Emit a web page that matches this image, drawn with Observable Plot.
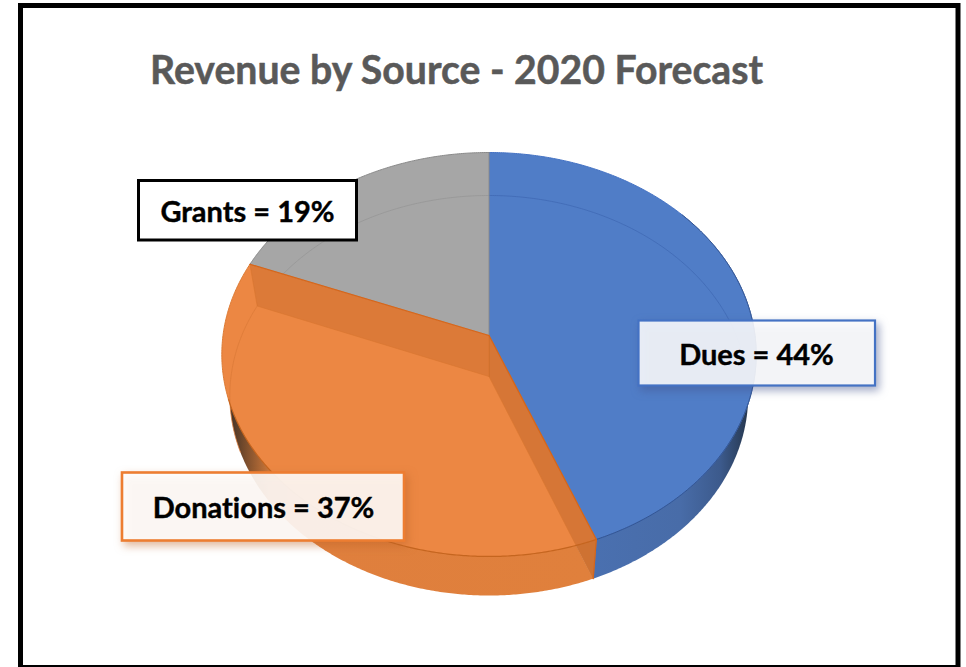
<!DOCTYPE html>
<html>
<head>
<meta charset="utf-8">
<script src="https://cdn.jsdelivr.net/npm/d3@7"></script>
<script src="https://cdn.jsdelivr.net/npm/@observablehq/plot@0.6"></script>
<style>
  html, body { margin: 0; padding: 0; background: #fff; }
  svg { display: block; }
</style>
</head>
<body>
<div id="chart"></div>
<script>
// ---- chart values ----
const titleText = "Revenue by Source - 2020 Forecast";
const categories = ["Dues", "Donations", "Grants"];
const shares = [44, 37, 19];

// ---- drawing layout (pixels of the 966x667 picture) ----
const W = 966, H = 667;
const topDisc = {cx: 488.5, cy: 335, A: 266, B: -200.2, C: 0.094};
const botDisc = {cx: 488.5, cy: 376, A: 258, B: -198.2, C: 0.095};
const total = d3.sum(shares);
const ends = d3.cumsum(shares);                 // cumulative, clockwise from 12 o'clock
const starts = ends.map((e, i) => e - shares[i]);

// perspective projection of a point of the flat unit disc
const proj = (d, r, share) => {
  const a = (share / total) * 2 * Math.PI;
  const u = r * Math.sin(a), v = r * Math.cos(a), w = 1 + d.C * v;
  return {x: d.cx + d.A * u / w, y: d.cy + d.B * v / w};
};
const arc = (d, from, to) => {
  const n = Math.max(2, Math.ceil(Math.abs(to - from) * 8));
  return d3.range(n + 1).map(i => proj(d, 1, from + (to - from) * i / n));
};
const apexT = proj(topDisc, 0, 0), apexB = proj(botDisc, 0, 0);
const wedge = (d, i) => [proj(d, 0, 0), ...arc(d, starts[i], ends[i])];
const poly = (pts, o) => Plot.line(pts, {x: "x", y: "y", curve: "linear-closed", stroke: "none", ...o});
const path = (pts, o) => Plot.line(pts, {x: "x", y: "y", curve: "linear", fill: "none", ...o});

const [iDues, iDon, iGr] = [0, 1, 2];
const cDT = proj(topDisc, 1, ends[iDues]), cDB = proj(botDisc, 1, ends[iDues]);
const cGT = proj(topDisc, 1, ends[iDon]),  cGB = proj(botDisc, 1, ends[iDon]);

// label boxes
const boxes = [
  {label: `${categories[2]} = ${shares[2]}%`, x1: 138.5, x2: 356.5, y1: 180.5, y2: 240, stroke: "#000", sw: 3, op: 1, tx: 247, ty: 212,
   filter: "none"},
  {label: `${categories[0]} = ${shares[0]}%`, x1: 638.5, x2: 875, y1: 320.5, y2: 385.5, stroke: "#4472c4", sw: 2.2, op: 0.87, tx: 756, ty: 355,
   filter: "drop-shadow(3px 4px 4px rgba(68,84,140,.55))"},
  {label: `${categories[1]} = ${shares[1]}%`, x1: 122, x2: 404, y1: 472.5, y2: 540.5, stroke: "#ed7d31", sw: 2.6, op: 0.88, tx: 263, ty: 508,
   filter: "drop-shadow(3px 4px 4px rgba(190,100,40,.5))"}
];

// gradients for the side wall
const defs = () => {
  const g = d3.create("svg:g");
  const d = g.append("defs");
  const grad = (id, stops) => {
    const lg = d.append("linearGradient").attr("id", id).attr("gradientUnits", "userSpaceOnUse")
      .attr("x1", 220).attr("x2", 760).attr("y1", 0).attr("y2", 0);
    stops.forEach(([o, c]) => lg.append("stop").attr("offset", (o - 220) / 540).attr("stop-color", c));
  };
  grad("wallO", [[228, "#3f3026"], [245, "#7a4d2c"], [268, "#c8753a"], [300, "#df7f3d"], [600, "#e0803c"]]);
  grad("wallB", [[590, "#4a70b0"], [680, "#486ca8"], [720, "#3c5a8c"], [748, "#26374f"]]);
  return g.node();
};

const chart = Plot.plot({
  width: W, height: H,
  margin: 0,
  x: {domain: [0, W], range: [0, W], axis: null},
  y: {domain: [0, H], range: [0, H], axis: null},
  style: {background: "#fff", fontFamily: "Lato, Carlito, sans-serif"},
  marks: [
    defs,
    // picture frame
    Plot.rect([{}], {x1: () => 20.5, x2: () => 958, y1: () => 5.5, y2: () => 667.5, stroke: "#000", strokeWidth: 5, fill: "#fff"}),
    Plot.text([titleText], {x: () => 456, y: () => 71, text: d => d, fontSize: 39.2, fontWeight: 700, fill: "#595959", stroke: "#595959", strokeWidth: 0.5, lineAnchor: "middle", fontVariant: "no-common-ligatures"}),

    // side wall: bottom disc, seen below the top face
    poly(wedge(botDisc, iDues), {fill: "url(#wallB)"}),
    poly(wedge(botDisc, iDon), {fill: "url(#wallO)"}),

    // top faces
    poly(wedge(topDisc, iDues), {fill: "#507dc7", stroke: "#4472c4", strokeWidth: 1}),
    poly(wedge(topDisc, iGr), {fill: "#a6a6a6"}),
    path(arc(topDisc, starts[iGr], ends[iGr]), {stroke: "#8a8a8a", strokeWidth: 1}),
    path([proj(topDisc, 1, 0), apexT], {stroke: "#8c8c8c", strokeWidth: 1}),
    path(arc(topDisc, starts[iDues] + 14, ends[iDues]), {stroke: "#35558f", strokeWidth: 1}),

    // far rim of the bottom disc, seen through the blue and grey faces
    path(arc(botDisc, 0, 24), {stroke: "#4069b4", strokeWidth: 1, strokeOpacity: 0.8}),
    path(arc(botDisc, starts[iGr], total), {stroke: "#969696", strokeWidth: 1, strokeOpacity: 0.8}),

    // orange face, with its inner walls seen through it
    poly([apexT, cDT, cDB, apexB], {fill: "#e0803c"}),
    poly(wedge(topDisc, iDon), {fill: "#ec8743"}),
    path(arc(botDisc, starts[iGr] - 12, ends[iDon]), {stroke: "#dc7a38", strokeWidth: 1, strokeOpacity: 0.8}),
    poly([apexT, cGT, cGB, apexB], {fill: "#b75e21", fillOpacity: 0.3, stroke: "#d9762f", strokeWidth: 0.6}),
    poly([apexT, cDT, cDB, apexB], {fill: "#b05a20", fillOpacity: 0.36, stroke: "#d9762f", strokeWidth: 0.6}),
    path(arc(topDisc, starts[iDon], starts[iDon] + 26), {stroke: "#c5651f", strokeWidth: 1.2}),
    path(arc(topDisc, starts[iDon] + 26, ends[iDon]), {stroke: "#dd7a32", strokeWidth: 1}),
    path([cGT, apexT, cDT, cDB], {stroke: "#d4661c", strokeWidth: 1.2}),

    // label boxes
    ...boxes.map(b => Plot.rect([b], {
      x1: "x1", x2: "x2", y1: "y1", y2: "y2",
      fill: "#fff", fillOpacity: b.op, stroke: b.stroke, strokeWidth: b.sw, imageFilter: b.filter
    })),
    Plot.text(boxes, {x: "tx", y: "ty", text: "label", fontSize: 29, fontWeight: 700, fill: "#000", stroke: "#000", strokeWidth: 0.4, lineAnchor: "middle", fontVariant: "no-common-ligatures"})
  ]
});
document.getElementById("chart").append(chart);
</script>
</body>
</html>
